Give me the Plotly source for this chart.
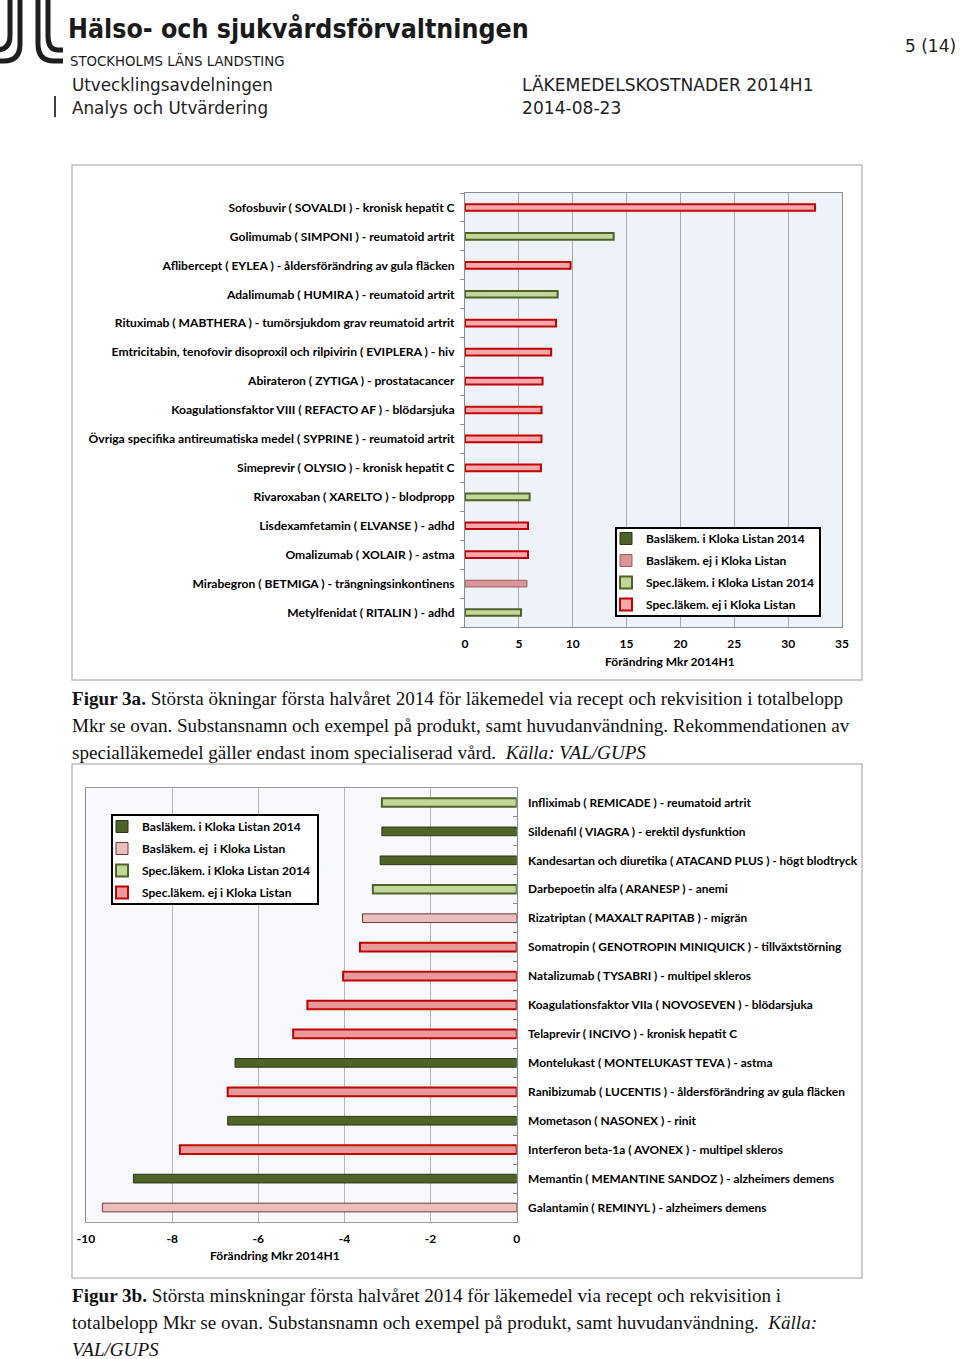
import plotly.graph_objects as go

W, H = 960, 1359


def px(x):
    return x / W


def py(y):
    return 1 - y / H


# ---------------- DATA ----------------
cats_up = [
    "Sofosbuvir ( SOVALDI ) - kronisk hepatit C",
    "Golimumab ( SIMPONI ) - reumatoid artrit",
    "Aflibercept ( EYLEA ) - åldersförändring av gula fläcken",
    "Adalimumab ( HUMIRA ) - reumatoid artrit",
    "Rituximab ( MABTHERA ) - tumörsjukdom grav reumatoid artrit",
    "Emtricitabin, tenofovir disoproxil och rilpivirin ( EVIPLERA ) - hiv",
    "Abirateron ( ZYTIGA ) - prostatacancer",
    "Koagulationsfaktor VIII ( REFACTO AF ) - blödarsjuka",
    "Övriga specifika antireumatiska medel ( SYPRINE ) - reumatoid artrit",
    "Simeprevir ( OLYSIO ) - kronisk hepatit C",
    "Rivaroxaban ( XARELTO ) - blodpropp",
    "Lisdexamfetamin ( ELVANSE ) - adhd",
    "Omalizumab ( XOLAIR ) - astma",
    "Mirabegron ( BETMIGA ) - trängningsinkontinens",
    "Metylfenidat ( RITALIN ) - adhd",
]
vals_up = [32.5, 13.8, 9.8, 8.6, 8.45, 8.0, 7.2, 7.1, 7.1, 7.05, 6.0, 5.85, 5.85, 5.75, 5.2]
types_up = ["spec_ej", "spec_i", "spec_ej", "spec_i", "spec_ej", "spec_ej", "spec_ej",
            "spec_ej", "spec_ej", "spec_ej", "spec_i", "spec_ej", "spec_ej", "bas_ej", "spec_i"]

cats_down = [
    "Infliximab ( REMICADE ) - reumatoid artrit",
    "Sildenafil ( VIAGRA ) - erektil dysfunktion",
    "Kandesartan och diuretika ( ATACAND PLUS ) - högt blodtryck",
    "Darbepoetin alfa ( ARANESP ) - anemi",
    "Rizatriptan ( MAXALT RAPITAB ) - migrän",
    "Somatropin ( GENOTROPIN MINIQUICK ) - tillväxtstörning",
    "Natalizumab ( TYSABRI ) - multipel skleros",
    "Koagulationsfaktor VIIa ( NOVOSEVEN ) - blödarsjuka",
    "Telaprevir ( INCIVO ) - kronisk hepatit C",
    "Montelukast ( MONTELUKAST TEVA ) - astma",
    "Ranibizumab ( LUCENTIS ) - åldersförändring av gula fläcken",
    "Mometason ( NASONEX ) - rinit",
    "Interferon beta-1a ( AVONEX ) - multipel skleros",
    "Memantin ( MEMANTINE SANDOZ ) - alzheimers demens",
    "Galantamin ( REMINYL ) - alzheimers demens",
]
vals_down = [-3.13, -3.13, -3.17, -3.34, -3.58, -3.64, -4.03, -4.86, -5.19,
             -6.54, -6.71, -6.71, -7.82, -8.9, -9.62]
types_down = ["spec_i", "bas_i", "bas_i", "spec_i", "bas_ej", "spec_ej", "spec_ej", "spec_ej",
              "spec_ej", "bas_i", "spec_ej", "bas_i", "spec_ej", "bas_i", "bas_ej"]

type_keys = ["bas_i", "bas_ej", "spec_i", "spec_ej"]
legend_up = ["Basläkem. i Kloka Listan 2014", "Basläkem. ej i Kloka Listan",
             "Spec.läkem. i Kloka Listan 2014", "Spec.läkem. ej i Kloka Listan"]
legend_down = ["Basläkem. i Kloka Listan 2014", "Basläkem. ej  i Kloka Listan",
               "Spec.läkem. i Kloka Listan 2014", "Spec.läkem. ej i Kloka Listan"]

x_up_ticks = [0, 5, 10, 15, 20, 25, 30, 35]
x_down_ticks = [-10, -8, -6, -4, -2, 0]
axis_title = "Förändring Mkr 2014H1"

caption_a = [
    "<b>Figur 3a.</b> Största ökningar första halvåret 2014 för läkemedel via recept och rekvisition i totalbelopp",
    "Mkr se ovan. Substansnamn och exempel på produkt, samt huvudanvändning. Rekommendationen av",
    "specialläkemedel gäller endast inom specialiserad vård.  <i>Källa: VAL/GUPS</i>",
]
caption_b = [
    "<b>Figur 3b.</b> Största minskningar första halvåret 2014 för läkemedel via recept och rekvisition i",
    "totalbelopp Mkr se ovan. Substansnamn och exempel på produkt, samt huvudanvändning.  <i>Källa:</i>",
    "<i>VAL/GUPS</i>",
]

# ---------------- STYLES ----------------
styles_up = {
    "bas_i": dict(color="#4F6228", line=dict(color="#2B3716", width=1)),
    "bas_ej": dict(color="#D99597", line=dict(color="#9A5E5E", width=1)),
    "spec_i": dict(color="#C3D69B", line=dict(color="#4F6228", width=2)),
    "spec_ej": dict(color="#F5A9AC", line=dict(color="#C00000", width=2)),
}
styles_down = {
    "bas_i": dict(color="#4F6228", line=dict(color="#2B3716", width=1)),
    "bas_ej": dict(color="#EBBDBD", line=dict(color="#6B3A3A", width=1)),
    "spec_i": dict(color="#C3D69B", line=dict(color="#4F6228", width=2)),
    "spec_ej": dict(color="#E8999C", line=dict(color="#C00000", width=2)),
}

LABEL_FONT = "Lato, 'Open Sans', sans-serif"

fig = go.Figure()

for k, name in zip(type_keys, legend_up):
    idx = [i for i, t in enumerate(types_up) if t == k]
    xs = [vals_up[i] for i in idx] or [None]
    ys = [cats_up[i] for i in idx] or [cats_up[0]]
    fig.add_trace(go.Bar(
        x=xs, y=ys, orientation="h", name=name, marker=styles_up[k], width=0.23,
        xaxis="x", yaxis="y", legend="legend", legendgroup="u" + k, hoverinfo="x+y",
    ))

for k, name in zip(type_keys, legend_down):
    idx = [i for i, t in enumerate(types_down) if t == k]
    xs = [vals_down[i] for i in idx] or [None]
    ys = [cats_down[i] for i in idx] or [cats_down[0]]
    fig.add_trace(go.Bar(
        x=xs, y=ys, orientation="h", name=name, marker=styles_down[k], width=0.3,
        xaxis="x2", yaxis="y2", legend="legend2", legendgroup="d" + k, hoverinfo="x+y",
    ))

tickfont = dict(family=LABEL_FONT, size=12, color="#000", weight="bold")
catfont_up = dict(family=LABEL_FONT, size=12.1, color="#000", weight="bold")
catfont_down = dict(family=LABEL_FONT, size=11.9, color="#000", weight="bold")

fig.update_layout(
    width=W, height=H, autosize=False,
    margin=dict(l=0, r=0, t=0, b=0, pad=0, autoexpand=False),
    paper_bgcolor="white",
    barmode="overlay",
    xaxis=dict(domain=[px(465), px(842)], anchor="y", range=[0, 35], automargin=False,
               tickvals=x_up_ticks, ticktext=[str(v) for v in x_up_ticks],
               showgrid=True, gridcolor="#A9A9A9", gridwidth=1, zeroline=False,
               showline=True, linecolor="#8C8C8C", linewidth=1, mirror=True,
               tickfont=tickfont, ticklabelstandoff=6, fixedrange=True),
    yaxis=dict(domain=[py(627), py(193)], anchor="x", type="category", automargin=False,
               categoryorder="array", categoryarray=list(reversed(cats_up)),
               showgrid=False, ticks="outside", tickson="boundaries", ticklen=4,
               tickcolor="#8C8C8C", showline=True, linecolor="#8C8C8C", mirror=True,
               tickfont=catfont_up, ticklabelstandoff=7, fixedrange=True),
    xaxis2=dict(domain=[px(86), px(516.7)], anchor="y2", range=[-10, 0], automargin=False,
                tickvals=x_down_ticks, ticktext=[str(v) for v in x_down_ticks],
                showgrid=True, gridcolor="#B5B5B5", gridwidth=1, zeroline=False,
                showline=True, linecolor="#9A9A9A", linewidth=1, mirror=True,
                tickfont=tickfont, ticklabelstandoff=6, fixedrange=True),
    yaxis2=dict(domain=[py(1222), py(788)], anchor="x2", type="category", side="right",
                automargin=False,
                categoryorder="array", categoryarray=list(reversed(cats_down)),
                showgrid=False, ticks="inside", tickson="boundaries", ticklen=4,
                tickcolor="#8C8C8C", showline=True, linecolor="#8C8C8C", mirror=True,
                tickfont=catfont_down, ticklabelstandoff=8, fixedrange=True),
    plot_bgcolor="#EEF2F9",
    legend=dict(x=px(606), y=py(524), xanchor="left", yanchor="top",
                bgcolor="rgba(0,0,0,0)", borderwidth=0, tracegroupgap=3,
                font=dict(family=LABEL_FONT, size=12, color="#000", weight="bold"),
                itemwidth=30, itemclick=False, itemdoubleclick=False),
    legend2=dict(x=px(102), y=py(812), xanchor="left", yanchor="top",
                 bgcolor="rgba(0,0,0,0)", borderwidth=0, tracegroupgap=3,
                 font=dict(family=LABEL_FONT, size=12, color="#000", weight="bold"),
                 itemwidth=30, itemclick=False, itemdoubleclick=False),
    showlegend=True,
)

shapes = []
# chart boxes
shapes.append(dict(type="rect", xref="paper", yref="paper", x0=px(72), x1=px(862),
                   y0=py(680), y1=py(165), line=dict(color="#BFBFBF", width=1.5), layer="below"))
shapes.append(dict(type="rect", xref="paper", yref="paper", x0=px(72), x1=px(862),
                   y0=py(1278), y1=py(764), line=dict(color="#BFBFBF", width=1.5), layer="below"))
# chart 2 plot background (lighter)
shapes.append(dict(type="rect", xref="paper", yref="paper", x0=px(86), x1=px(516.7),
                   y0=py(1222), y1=py(788), fillcolor="#F7F9FC", line=dict(width=0), layer="below"))
# legend boxes
shapes.append(dict(type="rect", xref="paper", yref="paper", x0=px(616), x1=px(820),
                   y0=py(616), y1=py(528), fillcolor="white", line=dict(color="#000", width=2), layer="above"))
shapes.append(dict(type="rect", xref="paper", yref="paper", x0=px(112), x1=px(318),
                   y0=py(904), y1=py(815), fillcolor="white", line=dict(color="#000", width=2), layer="above"))
# header vertical bar
shapes.append(dict(type="line", xref="paper", yref="paper", x0=px(55), x1=px(55),
                   y0=py(117), y1=py(96), line=dict(color="#000", width=1.5)))


def P(cmds):
    out = []
    for c in cmds:
        letter, nums = c[0], c[1:]
        pts = [f"{px(nums[i]):.5f},{py(nums[i + 1]):.5f}" for i in range(0, len(nums), 2)]
        out.append(letter + " ".join(pts))
    return " ".join(out)


logo_paths = [
    [("M", 10, -2), ("L", 10, 36), ("Q", 10, 50, -4, 50)],
    [("M", 20, -2), ("L", 20, 44), ("Q", 20, 61, 4, 61), ("L", -4, 61)],
    [("M", 38, -2), ("L", 38, 44), ("Q", 38, 61, 54, 61), ("L", 63, 61)],
    [("M", 48, -2), ("L", 48, 36), ("Q", 48, 50, 58, 50), ("L", 63, 50)],
]
for lp in logo_paths:
    shapes.append(dict(type="path", xref="paper", yref="paper", path=P(lp),
                       line=dict(color="#1E1E1E", width=5)))

fig.update_layout(shapes=shapes)

ann = []


def text(x, y, s, size, family, color="#000", xanchor="left", weight="normal"):
    ann.append(dict(xref="paper", yref="paper", x=px(x), y=py(y), text=s, showarrow=False,
                    xanchor=xanchor, yanchor="middle",
                    font=dict(family=family, size=size, color=color, weight=weight)))


HEAD = "'Liberation Sans Narrow', 'DejaVu Sans Condensed', sans-serif"
text(66, 28, "Hälso- och sjukvårdsförvaltningen", 26.5, HEAD, "#1A1A1A", weight="bold")
text(68, 60, "STOCKHOLMS LÄNS LANDSTING", 14.8, HEAD, "#1A1A1A")
text(958, 46, "5 (14)", 17, "'DejaVu Sans', sans-serif", "#222", xanchor="right")
text(70, 85, "Utvecklingsavdelningen", 16.8, "'DejaVu Sans', sans-serif", "#222")
text(70, 108, "Analys och Utvärdering", 16.8, "'DejaVu Sans', sans-serif", "#222")
text(520, 85, "LÄKEMEDELSKOSTNADER 2014H1", 17.1, "'DejaVu Sans', sans-serif", "#222")
text(520, 108, "2014-08-23", 17.1, "'DejaVu Sans', sans-serif", "#222")

text(670, 661, axis_title, 12, LABEL_FONT, xanchor="center", weight="bold")
text(275, 1255, axis_title, 12, LABEL_FONT, xanchor="center", weight="bold")

SERIF = "'Liberation Serif', 'DejaVu Serif', serif"
for i, line in enumerate(caption_a):
    text(70, 698 + 27 * i, line, 19.1, SERIF, "#111")
for i, line in enumerate(caption_b):
    text(70, 1295 + 27 * i, line, 19.1, SERIF, "#111")

fig.update_layout(annotations=ann)

fig.write_html(
    "out.html",
    config={"displayModeBar": False},
    post_script="document.body.style.margin='0px';"
                "document.documentElement.style.overflow='hidden';"
                "document.body.style.overflow='hidden';",
)
